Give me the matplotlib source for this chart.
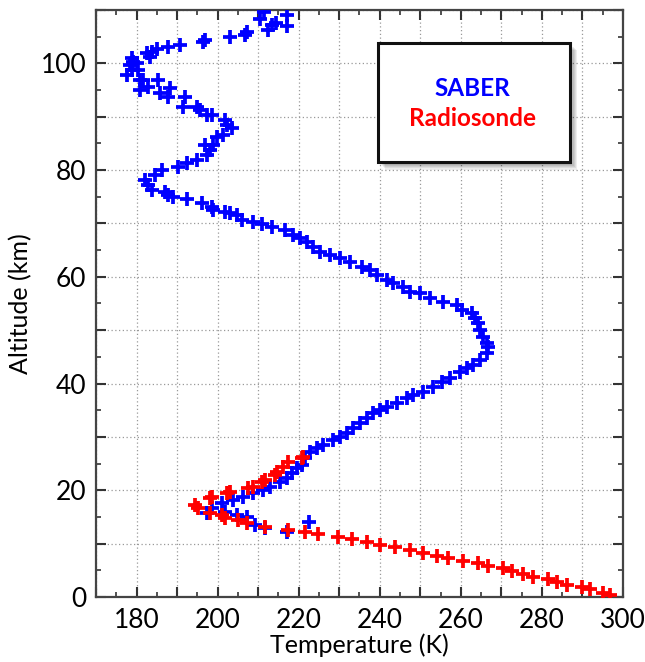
import matplotlib
matplotlib.use("Agg")
import matplotlib.pyplot as plt
import matplotlib.patches as mpatches
import matplotlib.transforms as mtransforms
from matplotlib.ticker import MultipleLocator, FuncFormatter

# SABER temperature profile (K) and altitude (km)
saber_temp = [217.1, 217.1, 214.4, 213.4, 212.4, 207.2, 206.8, 203.1, 196.9, 196.4,
              190.7, 187.8, 185.0, 183.8, 182.6, 183.3, 178.9, 179.1, 180.1, 178.4,
              177.6, 178.9, 180.4, 180.9, 181.6, 180.9, 182.8, 185.3, 185.8, 187.8,
              188.3, 192.0, 191.5, 194.9, 195.7, 197.4, 198.6, 201.8, 202.3, 203.5,
              201.3, 199.8, 198.9, 196.9, 198.1, 197.4, 194.9, 192.4, 190.2, 186.3,
              184.6, 182.1, 182.8, 183.8, 187.0, 187.8, 189.0, 192.4, 196.1, 198.6,
              198.9, 201.8, 203.1, 204.8, 206.0, 208.7, 210.9, 213.4, 216.6, 218.6,
              220.3, 222.0, 223.5, 225.3, 227.7, 230.2, 232.7, 235.6, 237.6, 239.3,
              241.8, 243.3, 245.7, 247.5, 249.9, 252.4, 255.6, 259.0, 260.3, 262.7,
              263.5, 264.2, 264.7, 265.5, 266.4, 266.7, 266.4, 264.7, 263.0, 261.5,
              259.8, 257.3, 255.3, 253.1, 250.7, 248.2, 246.7, 244.2, 241.8, 240.1,
              238.3, 236.8, 235.1, 233.4, 231.9, 230.2, 228.5, 226.0, 224.5, 222.8,
              221.6, 220.8, 219.6, 218.3, 217.1, 215.4, 212.9, 211.2, 208.7, 206.3,
              203.8, 201.1, 198.6, 197.4,
              201.8, 204.8, 207.2, 209.2, 211.7, 217.1, 222.5,
              210.5, 211.5]
saber_alt = [109.1, 107.0, 107.6, 107.2, 106.3, 105.9, 105.3, 105.0, 104.4, 104.0,
             103.5, 103.1, 102.7, 102.1, 102.0, 101.2, 101.0, 100.3, 100.1, 99.7,
             97.8, 98.8, 98.8, 96.9, 96.9, 95.0, 95.6, 96.9, 94.5, 93.7,
             95.4, 93.7, 91.8, 91.8, 91.3, 90.3, 90.3, 89.4, 88.5, 87.9,
             86.6, 86.2, 84.7, 84.7, 83.8, 82.8, 81.9, 81.3, 80.6, 80.0,
             79.1, 78.2, 77.2, 76.3, 75.9, 75.3, 75.0, 74.6, 73.8, 73.1,
             72.5, 72.2, 72.0, 71.6, 70.7, 70.3, 69.9, 69.3, 68.8, 67.8,
             67.3, 66.5, 65.6, 64.7, 64.1, 63.5, 62.8, 61.8, 61.3, 60.3,
             59.4, 58.8, 58.1, 57.2, 57.0, 56.0, 55.3, 54.7, 53.8, 53.2,
             52.3, 51.4, 50.0, 48.7, 47.6, 46.9, 45.7, 44.4, 43.5, 42.9,
             42.2, 41.0, 40.3, 39.4, 38.4, 37.9, 37.3, 36.4, 35.6, 35.0,
             34.5, 33.5, 32.6, 31.7, 30.7, 30.0, 29.4, 28.5, 27.9, 27.2,
             26.0, 24.7, 24.2, 23.2, 22.3, 21.6, 20.6, 20.1, 19.5, 18.7,
             18.2, 17.6, 16.7, 15.7,
             15.9, 15.4, 15.0, 13.5, 12.9, 12.2, 14.1,
             108.3, 109.6]

# Radiosonde temperature profile (K) and altitude (km)
radio_temp = [296.8, 295.1, 291.9, 289.9, 286.2, 283.7, 281.5, 277.8, 275.3, 272.6,
              270.4, 266.7, 264.2, 260.5, 256.8, 254.1, 250.7, 247.5, 243.8, 240.1,
              236.8, 233.1, 229.7, 224.8, 221.6, 217.4, 211.7, 207.2, 205.0, 201.8,
              201.1, 198.1, 195.2, 194.4, 198.1, 198.6, 202.3, 203.1, 207.5, 208.7,
              210.9, 211.7, 214.2, 214.6, 216.1, 217.4, 220.8, 221.1]
radio_alt = [0.4, 0.7, 1.5, 1.9, 2.2, 2.8, 3.4, 3.7, 4.3, 4.9,
             5.4, 5.8, 6.4, 6.7, 7.3, 7.7, 8.2, 8.8, 9.4, 9.7,
             10.3, 10.9, 11.2, 11.8, 12.2, 12.6, 13.1, 13.9, 14.4, 14.8,
             15.4, 15.7, 16.7, 17.2, 18.6, 18.7, 19.5, 19.7, 20.4, 20.6,
             21.6, 21.9, 22.9, 23.4, 24.4, 25.3, 26.0, 26.2]

legend_labels = ["SABER", "Radiosonde"]
legend_colors = ["#0000ff", "#ff0000"]

plt.rcParams['font.family'] = ['Lato', 'DejaVu Sans']

fig = plt.figure(figsize=(6.45, 6.62), dpi=100)
ax = fig.add_axes([0.1488, 0.0982, 0.8171, 0.8867])

ax.plot(saber_temp, saber_alt, linestyle='none', marker='+', color='#0000ff',
        markersize=10.5, markeredgewidth=2.7, zorder=3)
ax.plot(radio_temp, radio_alt, linestyle='none', marker='+', color='#ff0000',
        markersize=10.5, markeredgewidth=2.7, zorder=4)

ax.set_xlim(170, 300)
ax.set_ylim(0, 110)

ax.xaxis.set_major_locator(MultipleLocator(10))
ax.xaxis.set_minor_locator(MultipleLocator(5))
ax.yaxis.set_major_locator(MultipleLocator(10))
ax.yaxis.set_minor_locator(MultipleLocator(5))
fmt = FuncFormatter(lambda v, p: f"{int(round(v))}" if int(round(v)) % 20 == 0 else "")
ax.xaxis.set_major_formatter(fmt)
ax.yaxis.set_major_formatter(fmt)

ax.tick_params(which='both', direction='in', top=True, right=True,
               color='#333333', labelsize=19)
ax.tick_params(which='major', length=7.5, width=1.5)
ax.tick_params(which='minor', length=3.8, width=1.2)
ax.tick_params(axis='x', which='major', pad=8)
ax.tick_params(axis='y', which='major', pad=7)

for s in ax.spines.values():
    s.set_linewidth(1.6)
    s.set_color('#444444')

ax.grid(True, which='major', linestyle=(0, (1, 2)), color='#999999', linewidth=0.9)
ax.set_axisbelow(True)

ax.set_xlabel("Temperature (K)", fontsize=18, labelpad=0)
ax.set_ylabel("Altitude (km)", fontsize=18, labelpad=6)

# legend box with soft shadow
bx0, by0, bw, bh = 0.535, 0.741, 0.364, 0.203
for i in range(1, 7):
    off = mtransforms.ScaledTranslation(i * 0.9 / 72, -i * 0.9 / 72, fig.dpi_scale_trans)
    sh = mpatches.Rectangle((bx0, by0), bw, bh, transform=ax.transAxes + off,
                            facecolor='#000000', edgecolor='none', alpha=0.07,
                            zorder=5)
    ax.add_patch(sh)
box = mpatches.Rectangle((bx0, by0), bw, bh, transform=ax.transAxes,
                         facecolor='white', edgecolor='#111111', linewidth=2.2,
                         zorder=6)
ax.add_patch(box)
ax.text(0.715, 0.867, legend_labels[0], transform=ax.transAxes, ha='center',
        va='center', color=legend_colors[0], fontsize=17.5, fontweight='bold', zorder=7)
ax.text(0.715, 0.816, legend_labels[1], transform=ax.transAxes, ha='center',
        va='center', color=legend_colors[1], fontsize=17.5, fontweight='bold', zorder=7)

fig.savefig("out.png", dpi=100)
